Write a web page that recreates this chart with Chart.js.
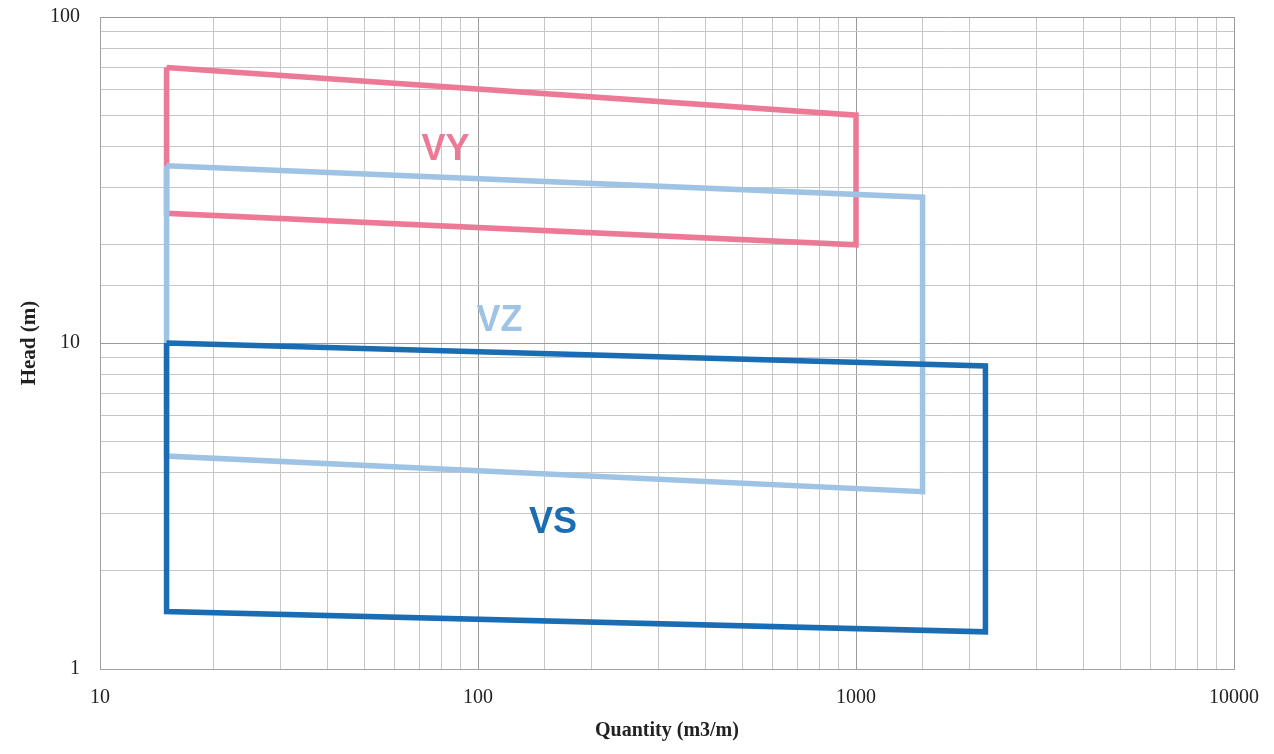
<!DOCTYPE html>
<html>
<head>
<meta charset="utf-8">
<script src="https://cdn.jsdelivr.net/npm/chart.js@4.4.1/dist/chart.umd.min.js"></script>
<style>
  html, body { margin: 0; padding: 0; background: #fff; }
  #wrap { width: 1274px; height: 754px; }
</style>
</head>
<body>
<div id="wrap"><canvas id="chart"></canvas></div>
<script>
// envelope corners, quantity (m3/m) and head (m), closed polygons
var vyQ = [15, 1000, 1000, 15, 15];
var vyH = [70, 50, 20, 25, 70];
var vzQ = [15, 1500, 1500, 15, 15];
var vzH = [35, 28, 3.5, 4.5, 35];
var vsQ = [15, 2200, 2200, 15, 15];
var vsH = [10, 8.5, 1.3, 1.5, 10];

var labelNames = ["VY", "VZ", "VS"];
var labelQ = [82, 114, 158];
var labelH = [39.2, 11.7, 2.81];

var colors = { VY: "#EC7A96", VZ: "#9FC3E5", VS: "#1A6DB3" };

function pts(q, h) {
  return q.map(function(v, i) { return { x: v, y: h[i] }; });
}

function isDecade(v) {
  var l = Math.log10(v);
  return Math.abs(l - Math.round(l)) < 1e-9;
}

var serif = "'Liberation Serif', 'DejaVu Serif', serif";

// draws the VY / VZ / VS labels at data positions
var boxLabels = {
  id: "boxLabels",
  afterDatasetsDraw: function(chart) {
    var ctx = chart.ctx;
    var xs = chart.scales.x, ys = chart.scales.y;
    ctx.save();
    ctx.font = "bold 36px 'Liberation Sans', Arial, sans-serif";
    ctx.textAlign = "center";
    ctx.textBaseline = "middle";
    labelNames.forEach(function(n, i) {
      ctx.fillStyle = colors[n];
      ctx.fillText(n, xs.getPixelForValue(labelQ[i]), ys.getPixelForValue(labelH[i]));
    });
    ctx.restore();
  }
};

function gridColor(c) {
  return isDecade(c.tick.value) ? "#9a9a9a" : "#c6c6c6";
}

new Chart("chart", {
  type: "scatter",
  plugins: [boxLabels],
  data: {
    datasets: [
      { label: "VS", data: pts(vsQ, vsH), order: 0 },
      { label: "VZ", data: pts(vzQ, vzH), order: 1 },
      { label: "VY", data: pts(vyQ, vyH), order: 2 }
    ].map(function(d) {
      d.showLine = true;
      d.borderColor = colors[d.label];
      d.backgroundColor = colors[d.label];
      d.borderWidth = 5.5;
      d.pointRadius = 0;
      d.pointHoverRadius = 0;
      d.borderJoinStyle = "miter";
      d.fill = false;
      return d;
    })
  },
  options: {
    responsive: true,
    maintainAspectRatio: false,
    animation: false,
    layout: { padding: { top: 17, right: 40, left: 0, bottom: 11 } },
    plugins: {
      legend: { display: false },
      tooltip: { enabled: false }
    },
    scales: {
      x: {
        type: "logarithmic",
        min: 10,
        max: 10000,
        border: { color: "#a0a0a0", width: 1 },
        grid: { color: gridColor, drawTicks: false },
        ticks: {
          autoSkip: false,
          maxRotation: 0,
          padding: 17,
          color: "#222",
          font: { family: serif, size: 20 },
          callback: function(v) { return isDecade(v) ? String(v) : ""; }
        },
        title: {
          display: true,
          text: "Quantity (m3/m)",
          color: "#222",
          font: { family: serif, size: 20, weight: "bold" },
          padding: { top: 8, bottom: 0 }
        },
        afterFit: function(s) {
          s.height = 74;
          s.paddingLeft = 0;
          s.paddingRight = 0;
        }
      },
      y: {
        type: "logarithmic",
        min: 1,
        max: 100,
        border: { color: "#a0a0a0", width: 1 },
        grid: { color: gridColor, drawTicks: false },
        ticks: {
          autoSkip: false,
          padding: 20,
          color: "#222",
          font: { family: serif, size: 20 },
          callback: function(v) { return isDecade(v) ? String(v) : ""; }
        },
        title: {
          display: true,
          text: "Head (m)",
          color: "#222",
          font: { family: serif, size: 21, weight: "bold" },
          padding: { top: 17, bottom: 0 }
        },
        afterFit: function(s) {
          s.width = 100;
          s.paddingTop = 0;
          s.paddingBottom = 0;
        }
      }
    }
  }
});
</script>
</body>
</html>
